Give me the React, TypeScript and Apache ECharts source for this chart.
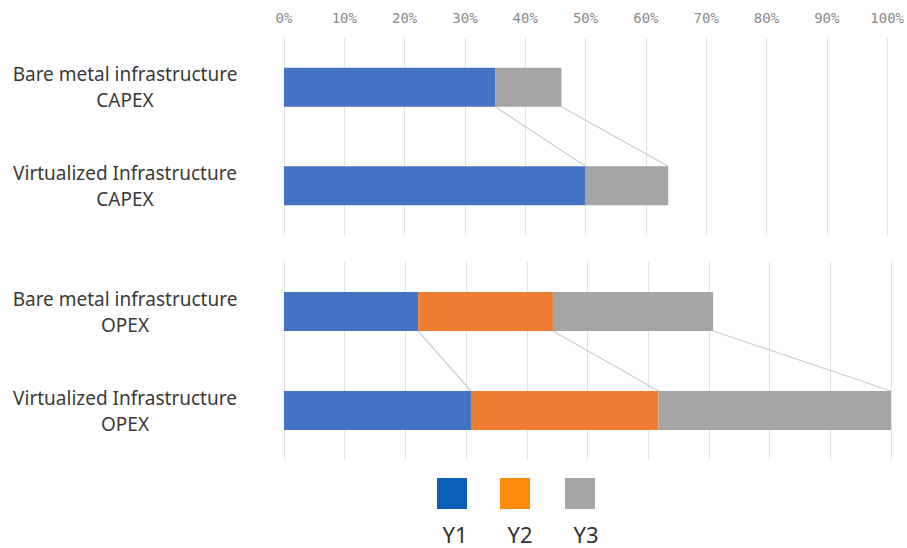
import React, { useEffect, useRef } from "react";
import * as echarts from "echarts";

const capexCategories = ["Bare metal infrastructure\nCAPEX", "Virtualized Infrastructure\nCAPEX"];
const opexCategories = ["Bare metal infrastructure\nOPEX", "Virtualized Infrastructure\nOPEX"];
const seriesNames = ["Y1", "Y2", "Y3"];
const capexY1 = [35, 50];
const capexY2 = [0, 0];
const capexY3 = [11, 13.7];
const opexY1 = [22.1, 30.8];
const opexY2 = [22.2, 30.9];
const opexY3 = [26.4, 38.3];
const xTicks = [0, 10, 20, 30, 40, 50, 60, 70, 80, 90, 100];

const barColors = ["#4472c4", "#ed7d31", "#a5a5a5"];
const legendColors = ["#0b5fb5", "#ff8b0d", "#a6a6a6"];
const BAR_W = 39;

function connectors(groups: number[][]) {
  const out: number[][] = [];
  let c0 = 0;
  let c1 = 0;
  for (const g of groups) {
    c0 += g[0];
    c1 += g[1];
    if (g[0] > 0 && g[1] > 0) out.push([c0, 0, c1]);
  }
  return out;
}

export default function App() {
  const ref = useRef<HTMLDivElement>(null);
  useEffect(() => {
    const chart = echarts.init(ref.current!, null, { renderer: "svg" });
    const renderConn = (params: any, api: any) => {
      const xa = api.value(0);
      const c = api.value(1);
      const xb = api.value(2);
      const p1 = api.coord([xa, c]);
      const p2 = api.coord([xb, c + 1]);
      return {
        type: "line",
        shape: { x1: p1[0], y1: p1[1] + BAR_W / 2, x2: p2[0], y2: p2[1] - BAR_W / 2 },
        style: { stroke: "#cfcfcf", lineWidth: 1.2 },
      };
    };
    const groups = [
      { cats: capexCategories, data: [capexY1, capexY2, capexY3] },
      { cats: opexCategories, data: [opexY1, opexY2, opexY3] },
    ];
    const series: any[] = [];
    groups.forEach((g, gi) => {
      g.data.forEach((d, si) => {
        series.push({
          type: "bar",
          name: seriesNames[si],
          xAxisIndex: gi,
          yAxisIndex: gi,
          stack: "s" + gi,
          barWidth: BAR_W,
          data: d,
          itemStyle: { color: barColors[si] },
        });
      });
      series.push({
        type: "custom",
        xAxisIndex: gi,
        yAxisIndex: gi,
        renderItem: renderConn,
        data: connectors(g.data),
        z: 1,
        silent: true,
      });
    });
    const legendX = [437, 500, 565];
    const legendTextX = [455, 520, 586];
    const graphic: any[] = [];
    seriesNames.forEach((n, i) => {
      graphic.push({
        type: "rect",
        shape: { x: legendX[i], y: 478, width: 30, height: 31 },
        style: { fill: legendColors[i] },
      });
      graphic.push({
        type: "text",
        x: legendTextX[i],
        y: 534,
        style: {
          text: n,
          fill: "#333",
          font: "22px 'Noto Sans'",
          textAlign: "center",
          textVerticalAlign: "middle",
        },
      });
    });
    const xAxisBase = {
      type: "value",
      min: 0,
      max: 100,
      interval: 10,
      axisLine: { show: false },
      axisTick: { show: false },
      splitLine: { show: true, lineStyle: { color: "#e3e3e3", width: 1 } },
    };
    const yAxisBase = {
      type: "category",
      inverse: true,
      axisLine: { show: false },
      axisTick: { show: false },
      axisLabel: {
        margin: 159,
        align: "center",
        color: "#3a3a3a",
        fontFamily: "Noto Sans",
        fontSize: 19,
        lineHeight: 26,
      },
    };
    chart.setOption({
      animation: false,
      grid: [
        { left: 284, right: 16, top: 38, height: 197 },
        { left: 284, right: 16, top: 262, height: 198 },
      ],
      xAxis: [
        {
          ...xAxisBase,
          gridIndex: 0,
          position: "top",
          axisLabel: {
            margin: 13,
            color: "#8c8c8c",
            fontFamily: "DejaVu Sans Mono",
            fontSize: 14,
            formatter: (v: number) => (xTicks.includes(v) ? v + "%" : ""),
          },
        },
        { ...xAxisBase, gridIndex: 1, axisLabel: { show: false } },
      ],
      yAxis: [
        { ...yAxisBase, gridIndex: 0, data: capexCategories },
        { ...yAxisBase, gridIndex: 1, data: opexCategories },
      ],
      series,
      graphic,
    });
    return () => chart.dispose();
  }, []);
  return (
    <div
      ref={ref}
      style={{ position: "fixed", left: 0, top: 0, width: 907, height: 548, background: "#fff" }}
    />
  );
}
